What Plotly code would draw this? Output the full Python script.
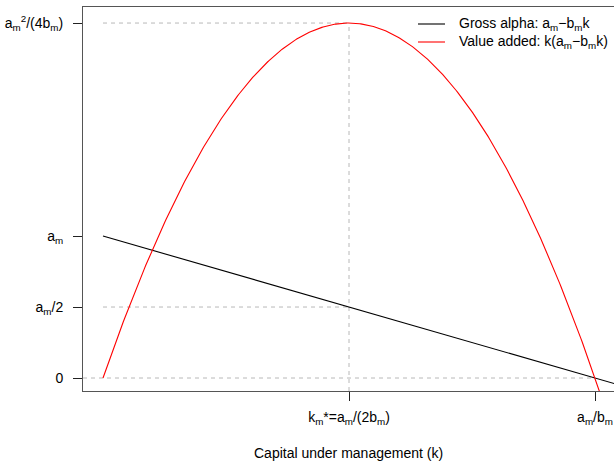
import numpy as np
import plotly.graph_objects as go

# Model parameters (abstract units: peak = 2.5 * a_m, zero at k = 10)
a_m = 1.0
b_m = 0.1

k_star = a_m / (2 * b_m)
k_zero = a_m / b_m
peak = a_m ** 2 / (4 * b_m)

x_tick_vals = [k_star, k_zero]
x_tick_text = ["k<sub>m</sub>*=a<sub>m</sub>/(2b<sub>m</sub>)", "a<sub>m</sub>/b<sub>m</sub>"]
y_tick_vals = [0, a_m / 2, a_m, peak]
y_tick_text = ["0", "a<sub>m</sub>/2", "a<sub>m</sub>", "a<sub>m</sub><sup>2</sup>/(4b<sub>m</sub>)"]

legend_labels = ["Gross alpha: a<sub>m</sub>\u2212b<sub>m</sub>k",
                 "Value added: k(a<sub>m</sub>\u2212b<sub>m</sub>k)"]
legend_colors = ["black", "red"]

x_title = "Capital under management (k)"

# axis ranges
x_range = [-0.4065, 10.386]
y_range = [-0.0915, 2.613]

k_line = np.array([0.0, 10.6])
alpha_line = a_m - b_m * k_line
k_curve = np.linspace(0, 10.2, 400)
value_curve = k_curve * (a_m - b_m * k_curve)

FONT = "Liberation Sans, Arial, sans-serif"
FS = 14
DASH_COL = "#b8b8b8"

fig = go.Figure()

# dashed guide lines
guides = [
    ([x_range[0], k_zero], [0, 0]),
    ([0, k_star], [a_m / 2, a_m / 2]),
    ([0, k_star], [peak, peak]),
    ([k_star, k_star], [y_range[0], peak]),
]
for gx, gy in guides:
    fig.add_trace(go.Scatter(x=gx, y=gy, mode="lines",
                             line=dict(color=DASH_COL, width=1, dash="4px,4px"),
                             hoverinfo="skip", showlegend=False))

fig.add_trace(go.Scatter(x=k_line, y=alpha_line, mode="lines",
                         line=dict(color=legend_colors[0], width=1.1),
                         name=legend_labels[0], showlegend=False))
fig.add_trace(go.Scatter(x=k_curve, y=value_curve, mode="lines",
                         line=dict(color=legend_colors[1], width=1.1),
                         name=legend_labels[1], showlegend=False))

# plot area in pixels
L, R, T, B = 83, 614, 7, 391
W, H = 614, 461
pw, ph = R - L, B - T

def px(x):
    return (x - L) / pw

def py(y):
    return (B - y) / ph

# manual legend (R style, no box)
leg_y = [24, 42]
for lab, col, yy in zip(legend_labels, legend_colors, leg_y):
    fig.add_shape(type="line", xref="paper", yref="paper",
                  x0=px(418), x1=px(445), y0=py(yy), y1=py(yy),
                  line=dict(color=col, width=1.1))
    fig.add_annotation(xref="paper", yref="paper", x=px(457), y=py(yy),
                       text=lab, showarrow=False, xanchor="left", yanchor="middle",
                       font=dict(family=FONT, size=FS, color="black"))

# x-axis title
fig.add_annotation(xref="paper", yref="paper", x=px(348), y=py(453),
                   text=x_title, showarrow=False, xanchor="center", yanchor="middle",
                   font=dict(family=FONT, size=FS, color="black"))

fig.update_layout(
    width=W, height=H,
    margin=dict(l=L, r=W - R, t=T, b=H - B, pad=0),
    plot_bgcolor="white", paper_bgcolor="white",
    font=dict(family=FONT, size=FS, color="black"),
    showlegend=False,
)
fig.update_xaxes(range=x_range, showgrid=False, zeroline=False,
                 showline=True, mirror=True, linecolor="#555555", linewidth=1,
                 tickmode="array", tickvals=x_tick_vals, ticktext=x_tick_text,
                 ticks="outside", ticklen=9, tickcolor="#222222", tickwidth=1,
                 ticklabelstandoff=4,
                 tickfont=dict(family=FONT, size=FS, color="black"))
fig.update_yaxes(range=y_range, showgrid=False, zeroline=False,
                 showline=True, mirror=False, linecolor="#555555", linewidth=1,
                 tickmode="array", tickvals=y_tick_vals, ticktext=y_tick_text,
                 ticks="outside", ticklen=9, tickcolor="#222222", tickwidth=1,
                 ticklabelstandoff=7,
                 tickfont=dict(family=FONT, size=FS, color="black"))

fig.write_html("out.html",
               config={"displayModeBar": False},
               post_script="document.body.style.margin='0';"
                           "document.body.style.padding='0';"
                           "document.documentElement.style.overflow='hidden';")
